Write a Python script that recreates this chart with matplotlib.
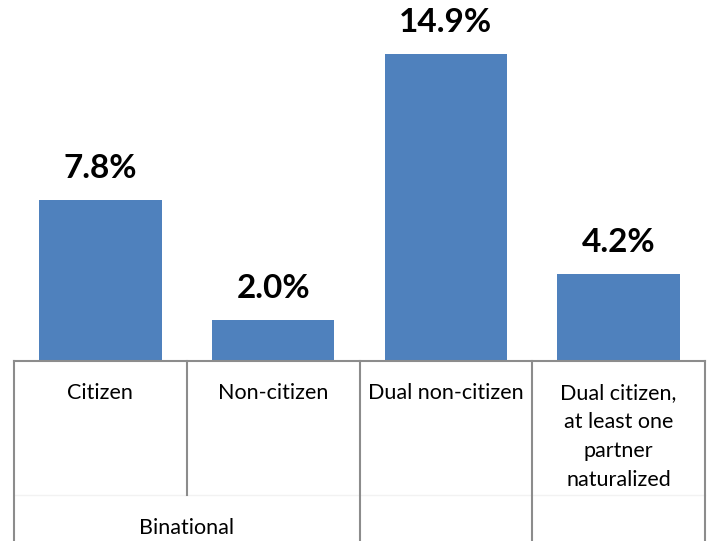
import matplotlib.pyplot as plt
import matplotlib.transforms as mtransforms

categories = ["Citizen", "Non-citizen", "Dual non-citizen",
              "Dual citizen,\nat least one\npartner\nnaturalized"]
values = [7.8, 2.0, 14.9, 4.2]
value_labels = ["7.8%", "2.0%", "14.9%", "4.2%"]
group_label = "Binational"

W, H = 709, 541
fig = plt.figure(figsize=(W / 100, H / 100), dpi=100)
ax = fig.add_axes([14 / W, (H - 361) / H, (705 - 14) / W, 329.6 / H])

xs = list(range(len(values)))
ax.bar(xs, values, width=0.71, color="#4F81BD")
for x, v, lab in zip(xs, values, value_labels):
    ax.annotate(lab, (x, v), xytext=(0, 16), textcoords="offset points",
                ha="center", va="baseline", fontsize=24, fontweight="bold",
                family="Lato")

ax.set_xlim(-0.5, 3.5)
ax.set_ylim(0, 16)
for s in ["left", "right", "top"]:
    ax.spines[s].set_visible(False)
ax.spines["bottom"].set_color("#8c8c8c")
ax.spines["bottom"].set_linewidth(1.5)
ax.set_xticks([])
ax.set_yticks([])

# category separators below the axis (y in axes coords)
trans = mtransforms.blended_transform_factory(ax.transData, ax.transAxes)
ax_h_px = 329.6
def ay(px):
    # figure pixel row (from top) -> axes fraction
    return (361 - px) / ax_h_px

for xb in [-0.5, 1.5, 2.5, 3.5]:
    ax.plot([xb, xb], [0, ay(541)], color="#8c8c8c", lw=1.5,
            transform=trans, clip_on=False)
ax.plot([0.5, 0.5], [0, ay(495)], color="#8c8c8c", lw=1.5,
        transform=trans, clip_on=False)
ax.plot([-0.5, 3.5], [ay(495), ay(495)], color="#f2f2f2", lw=1,
        transform=trans, clip_on=False, zorder=0)

for x, c in zip(xs, categories):
    ax.text(x, ay(383), c, transform=trans, ha="center", va="top",
            fontsize=15.5, family="Lato", linespacing=1.56)
ax.text(0.5, ay(528), group_label, transform=trans, ha="center",
        va="center", fontsize=15.5, family="Lato")

plt.savefig("out.png", dpi=100)
